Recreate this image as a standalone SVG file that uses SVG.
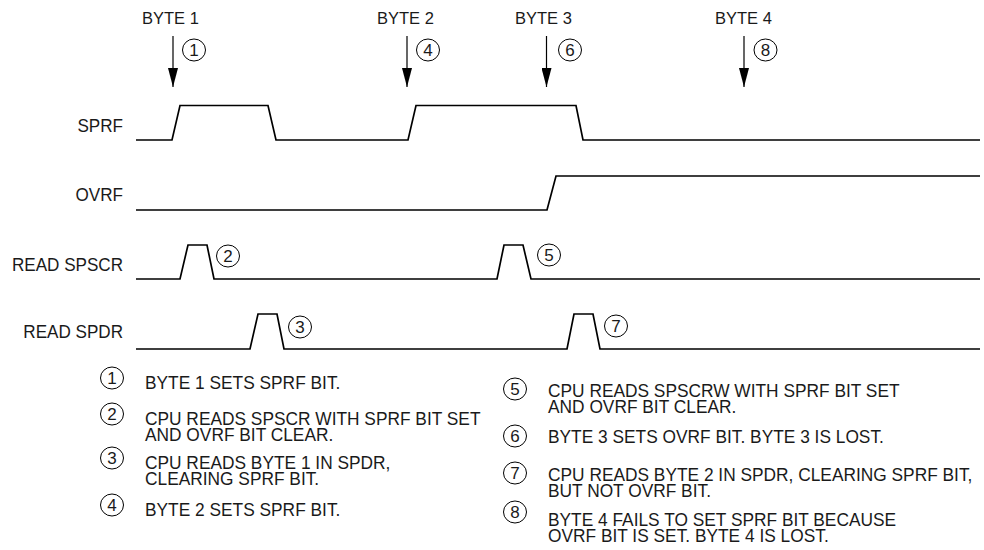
<svg xmlns="http://www.w3.org/2000/svg" width="984" height="550" viewBox="0 0 984 550">
<style>
text{font-family:"Liberation Sans",Arial,sans-serif;fill:#1a1a1a}
.sig{fill:none;stroke:#000;stroke-width:1.7;stroke-linejoin:miter}
.arr{stroke:#000;stroke-width:1.2}
.c{fill:none;stroke:#000;stroke-width:1}
.n{font-size:17px;text-anchor:middle}
.byte{font-size:16.5px}
.lbl{font-size:19px;text-anchor:end}
.leg{font-size:19px}
</style>
<defs>
<marker id="ah" viewBox="0 0 19 10" markerWidth="19" markerHeight="10" refX="19" refY="5" orient="auto" markerUnits="userSpaceOnUse">
<path d="M0,0 L19,5 L0,10 z" fill="#000"/>
</marker>
</defs>
<rect width="984" height="550" fill="#fff"/>

<g id="byte-labels">
<text class="byte" x="142" y="24">BYTE 1</text>
<text class="byte" x="377" y="24">BYTE 2</text>
<text class="byte" x="515" y="24">BYTE 3</text>
<text class="byte" x="715" y="24">BYTE 4</text>
</g>

<g id="connectors">
<line class="arr" x1="173" y1="36" x2="173" y2="87" marker-end="url(#ah)"/>
<line class="arr" x1="407" y1="36" x2="407" y2="87" marker-end="url(#ah)"/>
<line class="arr" x1="546.5" y1="36" x2="546.5" y2="87" marker-end="url(#ah)"/>
<line class="arr" x1="744" y1="36" x2="744" y2="87" marker-end="url(#ah)"/>
</g>

<g id="markers-top">
<ellipse class="c" cx="194" cy="50" rx="11.5" ry="11"/><text class="n" x="194" y="56">1</text>
<ellipse class="c" cx="428" cy="50" rx="11.5" ry="11"/><text class="n" x="428" y="56">4</text>
<ellipse class="c" cx="570" cy="50" rx="11.5" ry="11"/><text class="n" x="570" y="56">6</text>
<ellipse class="c" cx="765.5" cy="50" rx="11.5" ry="11"/><text class="n" x="765.5" y="56">8</text>
</g>

<g id="signal-labels" transform="scale(0.9,1)">
<text class="lbl" x="136.7" y="132">SPRF</text>
<text class="lbl" x="136.7" y="201">OVRF</text>
<text class="lbl" x="136.7" y="271">READ SPSCR</text>
<text class="lbl" x="136.7" y="338">READ SPDR</text>
</g>

<g id="sprf">
<path class="sig" d="M136,140 H172 L180,105.5 H268 L276,140 H408 L416,105.5 H576 L583,140 H980"/>
</g>
<g id="ovrf">
<path class="sig" d="M136,210 H547 L556,176 H980"/>
</g>
<g id="read-spscr">
<path class="sig" d="M136,279 H180 L188,245 H207 L214,279 H497 L504,245 H523 L531,279 H980"/>
<ellipse class="c" cx="228" cy="256" rx="11.5" ry="11"/><text class="n" x="228" y="262">2</text>
<ellipse class="c" cx="549" cy="255" rx="11.5" ry="11"/><text class="n" x="549" y="261">5</text>
</g>
<g id="read-spdr">
<path class="sig" d="M136,349 H250 L258,314 H277 L284,349 H567 L574,314 H593 L600,349 H980"/>
<ellipse class="c" cx="300" cy="327" rx="11.5" ry="11"/><text class="n" x="300" y="333">3</text>
<ellipse class="c" cx="616" cy="326" rx="11.5" ry="11"/><text class="n" x="616" y="332">7</text>
</g>

<g id="legend-circles">
<ellipse class="c" cx="112" cy="378" rx="11.5" ry="11"/><text class="n" x="112" y="384">1</text>
<ellipse class="c" cx="112" cy="414" rx="11.5" ry="11"/><text class="n" x="112" y="420">2</text>
<ellipse class="c" cx="112" cy="458" rx="11.5" ry="11"/><text class="n" x="112" y="464">3</text>
<ellipse class="c" cx="112" cy="505" rx="11.5" ry="11"/><text class="n" x="112" y="511">4</text>
<ellipse class="c" cx="515" cy="389" rx="11.5" ry="11"/><text class="n" x="515" y="395">5</text>
<ellipse class="c" cx="515" cy="436" rx="11.5" ry="11"/><text class="n" x="515" y="442">6</text>
<ellipse class="c" cx="515" cy="473" rx="11.5" ry="11"/><text class="n" x="515" y="479">7</text>
<ellipse class="c" cx="515" cy="512" rx="11.5" ry="11"/><text class="n" x="515" y="518">8</text>
</g>

<g id="legend-text" transform="scale(0.912,1)">
<text class="leg" x="159" y="389">BYTE 1 SETS SPRF BIT.</text>
<text class="leg" x="159" y="425">CPU READS SPSCR WITH SPRF BIT SET<tspan x="159" dy="16">AND OVRF BIT CLEAR.</tspan></text>
<text class="leg" x="159" y="469">CPU READS BYTE 1 IN SPDR,<tspan x="159" dy="16">CLEARING SPRF BIT.</tspan></text>
<text class="leg" x="159" y="516">BYTE 2 SETS SPRF BIT.</text>
<text class="leg" x="600.9" y="397">CPU READS SPSCRW WITH SPRF BIT SET<tspan x="600.9" dy="16">AND OVRF BIT CLEAR.</tspan></text>
<text class="leg" x="600.9" y="443">BYTE 3 SETS OVRF BIT. BYTE 3 IS LOST.</text>
<text class="leg" x="600.9" y="481">CPU READS BYTE 2 IN SPDR, CLEARING SPRF BIT,<tspan x="600.9" dy="16">BUT NOT OVRF BIT.</tspan></text>
<text class="leg" x="600.9" y="526">BYTE 4 FAILS TO SET SPRF BIT BECAUSE<tspan x="600.9" dy="16">OVRF BIT IS SET. BYTE 4 IS LOST.</tspan></text>
</g>
</svg>
